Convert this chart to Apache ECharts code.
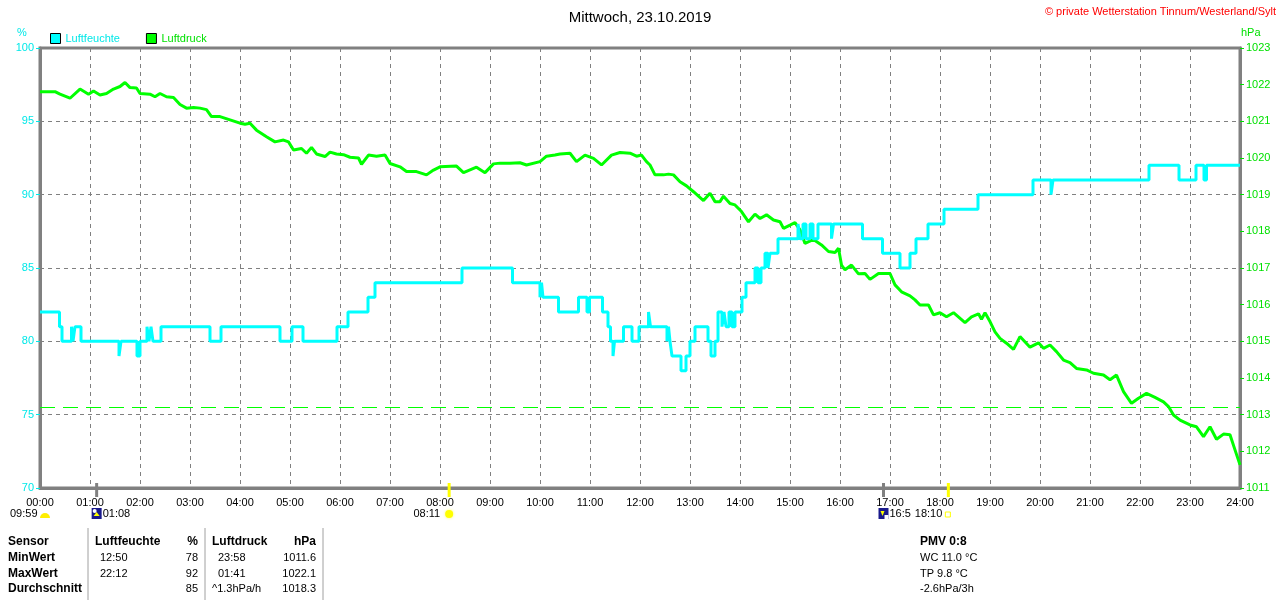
<!DOCTYPE html>
<html>
<head>
<meta charset="utf-8">
<script src="https://cdn.jsdelivr.net/npm/echarts@6/dist/echarts.min.js"></script>
<style>
html,body{margin:0;padding:0;background:#fff;}
#c{width:1280px;height:600px;}
</style>
</head>
<body>
<div id="c"></div>
<script>
// ---- Data (hours of day, values) ----
const humTimes = [0.00,0.39,0.44,0.63,0.66,0.70,0.82,1.58,1.62,1.94,2.00,2.14,2.18,2.22,2.26,2.42,3.40,3.62,4.80,5.04,5.26,5.94,6.16,6.56,6.70,8.44,9.45,10.00,10.03,10.06,10.37,10.77,10.94,10.99,11.25,11.36,11.41,11.46,11.49,11.67,11.84,11.98,12.17,12.21,12.54,12.57,12.60,12.64,12.82,12.92,13.00,13.10,13.36,13.42,13.50,13.56,13.64,13.68,13.72,13.78,13.84,13.90,14.04,14.12,14.30,14.36,14.42,14.50,14.56,14.60,14.76,15.16,15.20,15.26,15.32,15.40,15.46,15.56,15.83,15.87,16.45,16.85,17.20,17.40,17.52,17.76,18.08,18.76,19.86,20.22,20.26,22.18,22.78,23.12,23.28,23.33,24.00];
const humValues = [82,81,80,81,80,81,80,79,80,79,80,81,80,81,80,81,80,81,80,81,80,81,82,83,84,85,84,83,84,83,82,83,82,83,82,81,80,79,80,81,80,81,82,81,80,81,80,79,78,79,80,81,80,79,80,82,81,82,81,82,81,82,83,84,85,84,85,86,85,86,87,88,87,88,87,88,87,88,87,88,87,86,85,86,87,88,89,90,91,90,91,92,91,92,91,92,92];

const presTimes = [0.00,0.30,0.40,0.60,0.80,0.97,1.07,1.20,1.33,1.47,1.60,1.70,1.80,1.93,2.00,2.20,2.30,2.40,2.53,2.67,2.80,2.93,3.07,3.20,3.33,3.43,3.60,3.80,4.00,4.10,4.20,4.33,4.53,4.70,4.87,4.97,5.07,5.23,5.33,5.43,5.53,5.70,5.80,5.93,6.07,6.20,6.37,6.43,6.57,6.73,6.90,7.00,7.20,7.33,7.53,7.73,7.87,8.00,8.33,8.47,8.73,8.90,9.07,9.20,9.40,9.60,9.73,10.00,10.13,10.30,10.40,10.60,10.73,10.90,11.07,11.23,11.43,11.60,11.80,11.93,12.03,12.13,12.20,12.30,12.47,12.57,12.67,12.80,12.93,13.07,13.27,13.40,13.50,13.60,13.67,13.80,13.90,14.03,14.17,14.30,14.40,14.53,14.67,14.80,14.87,15.00,15.10,15.20,15.30,15.47,15.63,15.77,15.90,15.97,16.03,16.10,16.23,16.37,16.50,16.60,16.77,17.00,17.10,17.23,17.40,17.50,17.60,17.77,17.87,18.00,18.13,18.27,18.50,18.63,18.77,18.83,18.90,19.00,19.10,19.20,19.33,19.47,19.60,19.80,19.97,20.07,20.20,20.33,20.47,20.60,20.73,20.93,21.07,21.27,21.40,21.53,21.67,21.83,21.97,22.13,22.30,22.47,22.57,22.67,22.80,23.00,23.13,23.27,23.40,23.53,23.67,23.80,23.90,24.00];
const presValues = [1021.81,1021.81,1021.74,1021.63,1021.88,1021.74,1021.83,1021.72,1021.76,1021.88,1021.95,1022.06,1021.92,1021.91,1021.76,1021.74,1021.67,1021.76,1021.67,1021.65,1021.46,1021.36,1021.38,1021.36,1021.32,1021.13,1021.13,1021.04,1020.95,1020.92,1020.95,1020.76,1020.58,1020.44,1020.49,1020.44,1020.22,1020.26,1020.13,1020.29,1020.11,1020.04,1020.16,1020.11,1020.09,1020.02,1020.00,1019.83,1020.08,1020.05,1020.08,1019.85,1019.76,1019.63,1019.63,1019.54,1019.67,1019.76,1019.78,1019.60,1019.75,1019.60,1019.84,1019.86,1019.86,1019.87,1019.81,1019.90,1020.05,1020.08,1020.11,1020.13,1019.90,1020.08,1019.99,1019.81,1020.08,1020.15,1020.13,1020.05,1020.08,1019.90,1019.81,1019.54,1019.54,1019.56,1019.54,1019.35,1019.24,1019.08,1018.84,1019.04,1018.81,1018.81,1018.96,1018.76,1018.72,1018.54,1018.26,1018.47,1018.35,1018.45,1018.31,1018.26,1018.08,1018.17,1018.24,1018.04,1017.67,1017.78,1017.63,1017.45,1017.42,1017.54,1017.08,1016.95,1017.08,1016.84,1016.85,1016.69,1016.85,1016.85,1016.54,1016.35,1016.24,1016.13,1015.99,1015.99,1015.72,1015.78,1015.67,1015.78,1015.51,1015.67,1015.75,1015.60,1015.78,1015.54,1015.26,1015.08,1014.95,1014.78,1015.13,1014.84,1014.96,1014.81,1014.90,1014.72,1014.49,1014.42,1014.26,1014.22,1014.13,1014.08,1013.95,1014.08,1013.63,1013.31,1013.45,1013.58,1013.47,1013.35,1013.22,1012.99,1012.85,1012.72,1012.67,1012.40,1012.67,1012.33,1012.47,1012.45,1012.04,1011.63];

const refPressure = 1013.2;
const eventTimes = [1.133, 8.183, 16.87, 18.167];
const eventLabels = ['01:08', '08:11', '16:5', '18:10'];
const sunLabel = '09:59';

const tableRows = [
  ['Sensor', 'Luftfeuchte', '%', 'Luftdruck', 'hPa'],
  ['MinWert', '12:50', '78', '23:58', '1011.6'],
  ['MaxWert', '22:12', '92', '01:41', '1022.1'],
  ['Durchschnitt', '', '85', '^1.3hPa/h', '1018.3']
];
const pmvLines = ['PMV 0:8', 'WC 11.0 °C', 'TP 9.8 °C', '-2.6hPa/3h'];

// ---- Chart ----
const CYAN = '#00ffff', CYAN_T = '#00e8e8', GREEN = '#00ff00', GREEN_T = '#00e000', GRAY = '#808080';
const FONT = 'Liberation Sans, Arial, sans-serif';
const chart = echarts.init(document.getElementById('c'), null, {renderer: 'canvas'});

const humData = humTimes.map((t, i) => [t, humValues[i]]);
const presData = presTimes.map((t, i) => [t, presValues[i]]);
const pad2 = n => (n < 10 ? '0' : '') + n;

const option = {
  animation: false,
  backgroundColor: '#fff',
  textStyle: {fontFamily: FONT},
  title: {
    text: 'Mittwoch, 23.10.2019', left: 'center', top: 5,
    textStyle: {fontSize: 15, fontWeight: 'normal', color: '#000', fontFamily: FONT}
  },
  legend: {
    left: 50, top: 33, padding: 0, itemWidth: 10, itemHeight: 10, itemGap: 26, icon: 'rect',
    itemStyle: {borderColor: '#000', borderWidth: 1},
    textStyle: {fontSize: 11, fontFamily: FONT},
    data: [
      {name: 'Luftfeuchte', textStyle: {color: CYAN_T}},
      {name: 'Luftdruck', textStyle: {color: GREEN_T}}
    ],
    selectedMode: false
  },
  grid: {left: 40, right: 40, top: 48, bottom: 112, show: true, borderColor: GRAY, borderWidth: 3},
  xAxis: {
    type: 'value', min: 0, max: 24, interval: 1,
    axisLine: {show: true, lineStyle: {color: GRAY, width: 3}},
    axisTick: {show: false},
    axisLabel: {color: '#000', fontSize: 11, fontFamily: FONT, margin: 9,
      formatter: v => pad2(v) + ':00'},
    splitLine: {show: true, lineStyle: {color: GRAY, width: 1, type: [4, 4]}}
  },
  yAxis: [
    {
      type: 'value', min: 70, max: 100, interval: 5, position: 'left',
      axisLine: {show: true, lineStyle: {color: GRAY, width: 3}},
      axisTick: {show: true, length: 4, lineStyle: {color: CYAN_T}},
      axisLabel: {color: CYAN_T, fontSize: 11, fontFamily: FONT, margin: 6, formatter: v => String(v)},
      splitLine: {show: true, lineStyle: {color: GRAY, width: 1, type: [4, 4]}}
    },
    {
      type: 'value', min: 1011, max: 1023, interval: 1, position: 'right',
      axisLine: {show: true, lineStyle: {color: GRAY, width: 3}},
      axisTick: {show: true, length: 4, lineStyle: {color: GREEN_T}},
      axisLabel: {color: GREEN_T, fontSize: 11, fontFamily: FONT, margin: 6, formatter: v => String(v)},
      splitLine: {show: false}
    }
  ],
  series: [
    {
      name: 'Luftdruck', type: 'line', yAxisIndex: 1, data: presData,
      showSymbol: false, symbol: 'none', color: GREEN,
      lineStyle: {color: GREEN, width: 3},
      markLine: {
        silent: true, symbol: 'none', label: {show: false},
        lineStyle: {color: GREEN, width: 1, type: [15, 8], opacity: 1},
        data: [{yAxis: refPressure}]
      }
    },
    {
      name: 'Luftfeuchte', type: 'line', yAxisIndex: 0, data: humData,
      step: 'end', showSymbol: false, symbol: 'none', color: CYAN,
      lineStyle: {color: CYAN, width: 3}
    }
  ]
};
chart.setOption(option);

// ---- Annotations below axis and table ----
const g = [];
const txt = (x, y, s, o) => g.push(Object.assign({type: 'text', x: x, y: y, silent: true,
  style: Object.assign({text: s, fill: '#000', font: '11px ' + FONT, textVerticalAlign: 'middle'}, o || {})}));

g.push({type: 'text', x: 22, y: 33, style: {text: '%', fill: CYAN_T, font: '11px ' + FONT, textAlign: 'center', textVerticalAlign: 'middle'}});
g.push({type: 'text', x: 1241, y: 33, style: {text: 'hPa', fill: GREEN_T, font: '11px ' + FONT, textAlign: 'left', textVerticalAlign: 'middle'}});
g.push({type: 'text', x: 1276, y: 12, style: {text: '© private Wetterstation Tinnum/Westerland/Sylt', fill: '#ff0000', font: '11px ' + FONT, textAlign: 'right', textVerticalAlign: 'middle'}});

const ex = eventTimes.map(t => chart.convertToPixel({xAxisIndex: 0}, t));
const tickColors = [GRAY, '#ffff00', GRAY, '#ffff00'];
ex.forEach((x, i) => {
  g.push({type: 'line', silent: true, shape: {x1: x, y1: 483, x2: x, y2: 497}, style: {stroke: tickColors[i], lineWidth: 3}, z: 10});
});
const ty = 514;
// sunshine duration
txt(10, ty, sunLabel);
g.push({type: 'sector', shape: {cx: 45, cy: 518, r: 5, r0: 0, startAngle: Math.PI, endAngle: 2 * Math.PI}, style: {fill: '#ffee00'}});
// moonrise 01:08
g.push({type: 'rect', shape: {x: ex[0] - 5, y: 508, width: 10, height: 11}, style: {fill: '#1a1a8c'}});
g.push({type: 'circle', shape: {cx: ex[0] - 2, cy: 511, r: 2}, style: {fill: '#ffffff'}});
g.push({type: 'polygon', shape: {points: [[ex[0], 512], [ex[0] - 3, 516], [ex[0] + 3, 516]]}, style: {fill: '#ffff00'}});
txt(ex[0] + 6, ty, eventLabels[0]);
// sunrise 08:11
txt(ex[1] - 9, ty, eventLabels[1], {textAlign: 'right'});
g.push({type: 'circle', shape: {cx: ex[1], cy: 514, r: 4}, style: {fill: '#ffff00', shadowBlur: 3, shadowColor: '#ffff66'}});
// moonset 16:5x
g.push({type: 'rect', shape: {x: ex[2] - 5, y: 508, width: 10, height: 11}, style: {fill: '#1a1a8c'}});
g.push({type: 'polygon', shape: {points: [[ex[2] - 3, 511], [ex[2] + 1, 511], [ex[2] - 1, 516]]}, style: {fill: '#ffff00'}});
g.push({type: 'rect', shape: {x: ex[2] + 1, y: 515, width: 4, height: 4}, style: {fill: '#ffffff'}});
txt(ex[2] + 6, ty, eventLabels[2]);
// sunset 18:10
txt(ex[3] - 6, ty, eventLabels[3], {textAlign: 'right'});
g.push({type: 'rect', shape: {x: ex[3] - 3, y: 512, width: 5, height: 5}, style: {fill: 'none', stroke: '#ffff00', lineWidth: 1}});

// table separators
[88, 205, 323].forEach(x => g.push({type: 'line', shape: {x1: x, y1: 528, x2: x, y2: 600}, style: {stroke: '#a0a0a0', lineWidth: 1}}));
const rowY = [542, 558, 574, 589];
tableRows.forEach((r, i) => {
  const head = i === 0;
  const bold = 'bold 12px ' + FONT, reg = '11px ' + FONT;
  txt(8, rowY[i], r[0], {font: bold});
  txt(head ? 95 : 100, rowY[i], r[1], {font: head ? bold : reg});
  txt(198, rowY[i], r[2], {font: head ? bold : reg, textAlign: 'right'});
  txt(head || i === 3 ? 212 : 218, rowY[i], r[3], {font: head ? bold : reg});
  txt(316, rowY[i], r[4], {font: head ? bold : reg, textAlign: 'right'});
});
pmvLines.forEach((s, i) => txt(920, rowY[i], s, {font: (i === 0 ? 'bold 12px ' : '11px ') + FONT}));

chart.setOption({graphic: {elements: g}});
</script>
</body>
</html>
